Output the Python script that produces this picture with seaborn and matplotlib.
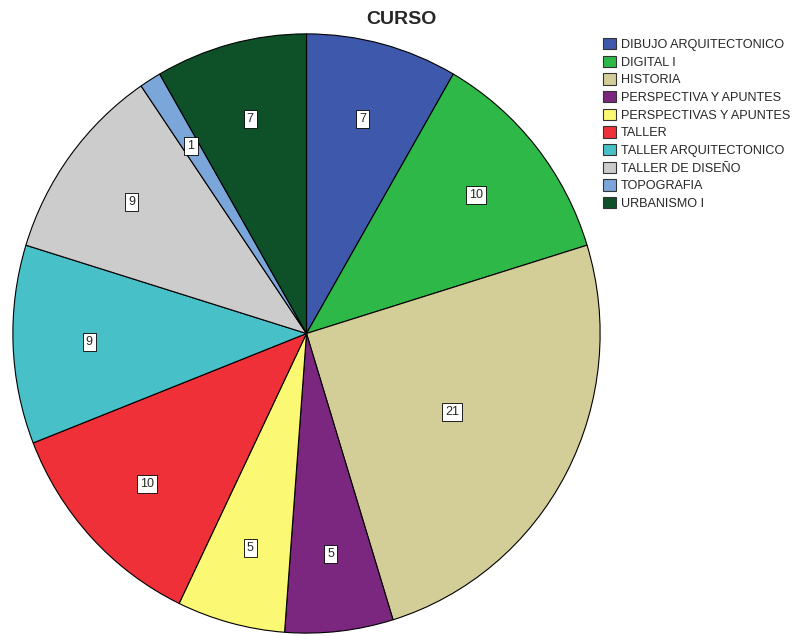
import matplotlib
matplotlib.use("Agg")
import matplotlib.pyplot as plt
from matplotlib.patches import Patch
import seaborn as sns

# data
cursos = [
    "DIBUJO ARQUITECTONICO", "DIGITAL I", "HISTORIA", "PERSPECTIVA Y APUNTES",
    "PERSPECTIVAS Y APUNTES", "TALLER", "TALLER ARQUITECTONICO",
    "TALLER DE DISEÑO", "TOPOGRAFIA", "URBANISMO I",
]
conteos = [7, 10, 21, 5, 5, 10, 9, 9, 1, 7]
colores_hex = [
    "#3e58ac", "#2eb848", "#d3ce97", "#7b277f", "#fbf873",
    "#ef3038", "#48c0c8", "#cccccc", "#7ba6da", "#0e5129",
]

sns.set_theme(style="white")
plt.rcParams["font.family"] = ["Liberation Sans", "DejaVu Sans"]
palette = sns.color_palette(colores_hex)

fig = plt.figure(figsize=(7.95, 6.36), dpi=100)
# pie is slightly taller than wide in the original
ax = fig.add_axes([12 / 795, 2 / 636, 589 / 795, 601 / 636])

wedges, texts = ax.pie(
    conteos, colors=palette, startangle=90, counterclock=False,
    labels=[str(v) for v in conteos], labeldistance=0.74,
    wedgeprops=dict(edgecolor="black", linewidth=0.8),
    textprops=dict(fontsize=9, ha="center", va="center",
                   bbox=dict(boxstyle="square,pad=0.25", fc="white", ec="black", lw=0.6)),
)
# the big slice label sits closer to the centre
for t, v in zip(texts, conteos):
    if v == max(conteos):
        x, y = t.get_position()
        t.set_position((x * 0.56 / 0.74, y * 0.56 / 0.74))
ax.set_xlim(-1.003, 1.003)
ax.set_ylim(-1.003, 1.003)
ax.set_aspect("auto")
ax.axis("off")

fig.text(401 / 795, 1 - 19 / 636, "CURSO", ha="center", va="center",
         fontsize=14, fontweight="bold")

handles = [Patch(facecolor=c, edgecolor="#333333", linewidth=0.8) for c in palette]
fig.legend(handles, cursos, loc="upper left", bbox_to_anchor=(603 / 795, 1 - 38 / 636),
           frameon=False, fontsize=9.1, handlelength=1.0, handleheight=1.0,
           handletextpad=0.4, labelspacing=0.37, borderaxespad=0, borderpad=0)

fig.savefig("out.png", dpi=100)
